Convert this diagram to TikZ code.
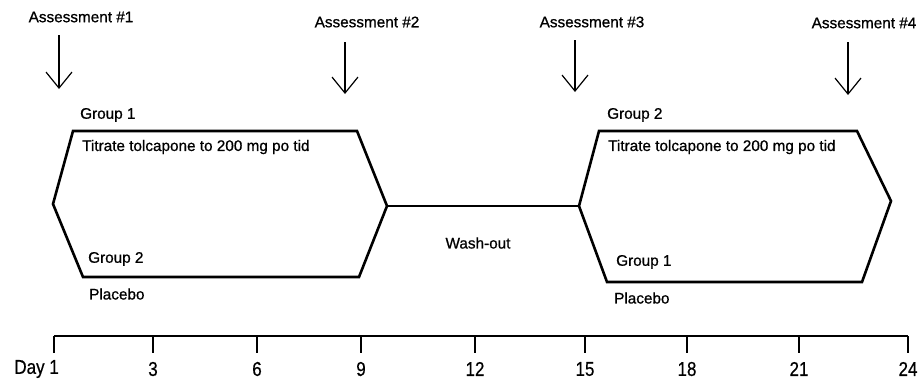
\documentclass[tikz,border=0pt]{standalone}
\usepackage{fontspec}
\setmainfont{Liberation Sans}[RawFeature={embolden=0.8}]
\newfontfamily\dayfont{Liberation Sans}[FakeStretch=0.85, RawFeature={embolden=0.5}]
\usetikzlibrary{arrows.meta, positioning}

\tikzset{
    lbl/.style={inner sep=0pt, font=\fontsize{15.3}{18}\selectfont},
    daylbl/.style={inner sep=0pt, font=\dayfont\fontsize{20}{23}\selectfont},
    hexline/.style={line width=2.6pt, line join=miter},
    assess/.style={line width=1.2pt, -{Straight Barb[length=16pt, width=26pt, line width=1.2pt]}}
}

\begin{document}
\begin{tikzpicture}[x=1pt, y=-1pt]
    \useasboundingbox (0,0) rectangle (920,386);

    % Assessments
    \node[lbl] (a1) at (81,17) {Assessment \#1};
    \node[lbl] (a2) at (367,22) {Assessment \#2};
    \node[lbl] (a3) at (592,22) {Assessment \#3};
    \node[lbl] (a4) at (864,23) {Assessment \#4};
    \foreach \n/\x/\ya/\yb in {1/59/35/89, 2/345/42/94, 3/575/40/92, 4/848/42/95} {
        \coordinate (s\n) at (\x,\ya);
        \coordinate (e\n) at (\x,\yb);
        \draw[assess] (s\n) -- (e\n);
    }

    % First period
    \coordinate (h1l) at (53,204);
    \coordinate (h1r) at (387,206);
    \draw[hexline] (h1l) -- (73,131) -- (357,131) -- (h1r) -- (359,277) -- (83,277) -- cycle;
    \node[lbl, anchor=west] (g1a) at (80,115) {Group 1};
    \node[lbl, anchor=west] (t1) at (82,147) {Titrate tolcapone to 200 mg po tid};
    \node[lbl, anchor=west] (g2a) at (88,259) {Group 2};
    \node[lbl, anchor=west] (p1) at (89,294) {Placebo};

    % Wash-out
    \coordinate (h2l) at (579,206);
    \draw[line width=2.4pt] (h1r) -- (h2l);
    \node[lbl] (w) at (478,243) {Wash-out};

    % Second period
    \draw[hexline] (h2l) -- (599,131) -- (857,131) -- (891,201) -- (862,282) -- (607,282) -- cycle;
    \node[lbl, anchor=west] (g2b) at (607,115) {Group 2};
    \node[lbl, anchor=west] (t2) at (608,147) {Titrate tolcapone to 200 mg po tid};
    \node[lbl, anchor=west] (g1b) at (616,262) {Group 1};
    \node[lbl, anchor=west] (p2) at (614,298) {Placebo};

    % Time axis
    \coordinate (d0) at (54,336);
    \coordinate (d8) at (908,336);
    \draw[line width=2.6pt] (d0) -- (d8);
    \foreach \i/\x/\t in {1/153/3, 2/257/6, 3/361/9, 4/475/12, 5/585/15, 6/687/18, 7/799/21, 8/908/24} {
        \draw[line width=1.8pt] (\x,336) -- (\x,353);
        \node[daylbl] (n\i) at (\x,369) {\t};
    }
    \draw[line width=1.8pt] (54,336) -- (54,353);
    \node[daylbl, anchor=east] (n0) at (59,369) {Day 1};
\end{tikzpicture}
\end{document}
